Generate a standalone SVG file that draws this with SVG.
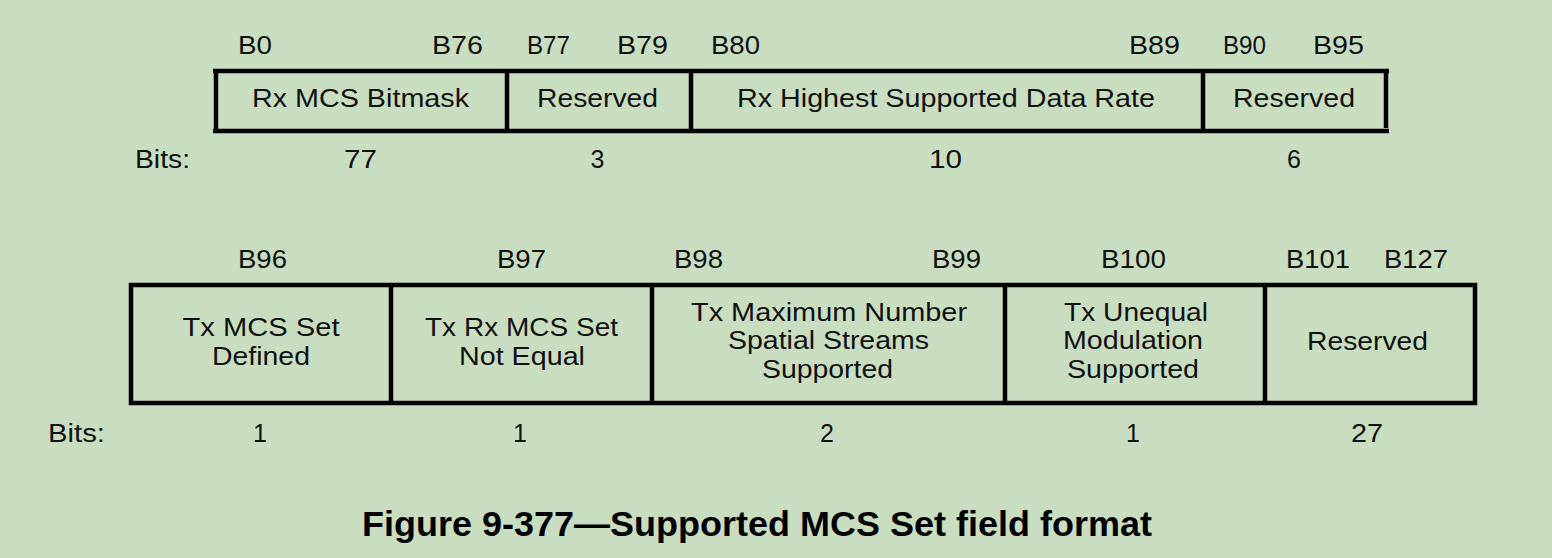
<svg xmlns="http://www.w3.org/2000/svg" width="1552" height="558" viewBox="0 0 1552 558">
<style>
.t{font-family:"Liberation Sans",Arial,sans-serif;font-size:25px;fill:#111;}
.l{font-size:26px;}
.c{text-anchor:middle;}
.cap{font-family:"Liberation Sans",Arial,sans-serif;font-size:35px;font-weight:bold;fill:#000;text-anchor:middle;}
.ln{stroke:#000;stroke-width:4.5;fill:none;}
</style>
<rect x="0" y="0" width="1552" height="558" fill="#C9DEC0"/>
<g id="top-labels">
<text class="t l" x="238" y="54" textLength="34" lengthAdjust="spacingAndGlyphs">B0</text>
<text class="t l" x="432" y="54" textLength="51" lengthAdjust="spacingAndGlyphs">B76</text>
<text class="t l" x="527" y="54" textLength="43" lengthAdjust="spacingAndGlyphs">B77</text>
<text class="t l" x="617" y="54" textLength="51" lengthAdjust="spacingAndGlyphs">B79</text>
<text class="t l" x="711" y="54" textLength="49" lengthAdjust="spacingAndGlyphs">B80</text>
<text class="t l" x="1129" y="54" textLength="51" lengthAdjust="spacingAndGlyphs">B89</text>
<text class="t l" x="1223" y="54" textLength="43" lengthAdjust="spacingAndGlyphs">B90</text>
<text class="t l" x="1313" y="54" textLength="51" lengthAdjust="spacingAndGlyphs">B95</text>
</g>
<g id="top-row">
<line class="ln" x1="213" y1="71" x2="1389" y2="71"/>
<line class="ln" x1="213" y1="131" x2="1389" y2="131"/>
<line class="ln" x1="216" y1="71" x2="216" y2="129"/>
<line class="ln" x1="507" y1="71" x2="507" y2="131"/>
<line class="ln" x1="691" y1="71" x2="691" y2="131"/>
<line class="ln" x1="1203" y1="71" x2="1203" y2="131"/>
<line class="ln" x1="1386" y1="71" x2="1386" y2="128"/>
</g>
<g id="f-rx-mcs-bitmask"><text class="t c" x="360.5" y="107" textLength="217" lengthAdjust="spacingAndGlyphs">Rx MCS Bitmask</text></g>
<g id="f-reserved-1"><text class="t c" x="597.5" y="107" textLength="121" lengthAdjust="spacingAndGlyphs">Reserved</text></g>
<g id="f-rx-highest"><text class="t c" x="946" y="107" textLength="418" lengthAdjust="spacingAndGlyphs">Rx Highest Supported Data Rate</text></g>
<g id="f-reserved-2"><text class="t c" x="1294" y="107" textLength="122" lengthAdjust="spacingAndGlyphs">Reserved</text></g>
<g id="top-bits">
<text class="t" x="135" y="168" textLength="55" lengthAdjust="spacingAndGlyphs">Bits:</text>
<text class="t c" x="360.5" y="168" textLength="33" lengthAdjust="spacingAndGlyphs">77</text>
<text class="t c" x="597.5" y="168">3</text>
<text class="t c" x="945.5" y="168" textLength="33" lengthAdjust="spacingAndGlyphs">10</text>
<text class="t c" x="1294" y="168">6</text>
</g>
<g id="bottom-labels">
<text class="t l" x="238" y="268" textLength="49" lengthAdjust="spacingAndGlyphs">B96</text>
<text class="t l" x="497" y="268" textLength="49" lengthAdjust="spacingAndGlyphs">B97</text>
<text class="t l" x="674" y="268" textLength="49" lengthAdjust="spacingAndGlyphs">B98</text>
<text class="t l" x="932" y="268" textLength="49" lengthAdjust="spacingAndGlyphs">B99</text>
<text class="t l" x="1101" y="268" textLength="65" lengthAdjust="spacingAndGlyphs">B100</text>
<text class="t l" x="1286" y="268" textLength="64" lengthAdjust="spacingAndGlyphs">B101</text>
<text class="t l" x="1384" y="268" textLength="64" lengthAdjust="spacingAndGlyphs">B127</text>
</g>
<g id="bottom-row">
<rect class="ln" x="131" y="285" width="1344" height="118"/>
<line class="ln" x1="391" y1="285" x2="391" y2="403"/>
<line class="ln" x1="652" y1="285" x2="652" y2="403"/>
<line class="ln" x1="1005" y1="285" x2="1005" y2="403"/>
<line class="ln" x1="1265" y1="285" x2="1265" y2="403"/>
</g>
<g id="f-tx-mcs-set-defined">
<text class="t c" x="261" y="336" textLength="157" lengthAdjust="spacingAndGlyphs">Tx MCS Set</text>
<text class="t c" x="261" y="365" textLength="98" lengthAdjust="spacingAndGlyphs">Defined</text>
</g>
<g id="f-tx-rx-not-equal">
<text class="t c" x="521.5" y="336" textLength="193" lengthAdjust="spacingAndGlyphs">Tx Rx MCS Set</text>
<text class="t c" x="522" y="365" textLength="126" lengthAdjust="spacingAndGlyphs">Not Equal</text>
</g>
<g id="f-tx-max-nss">
<text class="t c" x="829" y="321" textLength="276" lengthAdjust="spacingAndGlyphs">Tx Maximum Number</text>
<text class="t c" x="828.5" y="349" textLength="201" lengthAdjust="spacingAndGlyphs">Spatial Streams</text>
<text class="t c" x="827.5" y="378" textLength="131" lengthAdjust="spacingAndGlyphs">Supported</text>
</g>
<g id="f-tx-unequal">
<text class="t c" x="1136" y="321" textLength="144" lengthAdjust="spacingAndGlyphs">Tx Unequal</text>
<text class="t c" x="1133" y="349" textLength="140" lengthAdjust="spacingAndGlyphs">Modulation</text>
<text class="t c" x="1133" y="378" textLength="132" lengthAdjust="spacingAndGlyphs">Supported</text>
</g>
<g id="f-reserved-3"><text class="t c" x="1367.5" y="350" textLength="121" lengthAdjust="spacingAndGlyphs">Reserved</text></g>
<g id="bottom-bits">
<text class="t" x="48" y="442" textLength="57" lengthAdjust="spacingAndGlyphs">Bits:</text>
<text class="t c" x="260" y="442">1</text>
<text class="t c" x="520" y="442">1</text>
<text class="t c" x="827" y="442">2</text>
<text class="t c" x="1133" y="442">1</text>
<text class="t c" x="1367" y="442" textLength="32" lengthAdjust="spacingAndGlyphs">27</text>
</g>
<g id="caption"><text class="cap" x="757" y="536" textLength="790" lengthAdjust="spacingAndGlyphs">Figure 9-377—Supported MCS Set field format</text></g>
</svg>
